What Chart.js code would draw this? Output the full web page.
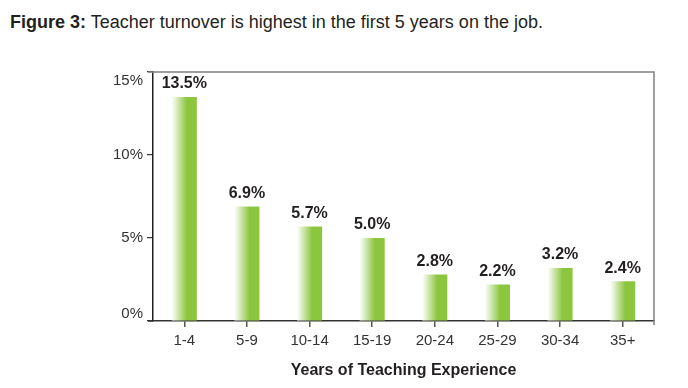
<!DOCTYPE html>
<html>
<head>
<meta charset="utf-8">
<script src="https://cdn.jsdelivr.net/npm/chart.js@4"></script>
<style>
  body { margin: 0; background: #fff; font-family: "Liberation Sans", Arial, sans-serif; }
  #wrap { position: relative; width: 688px; height: 388px; }
  #title { position: absolute; left: 10px; top: 12px; font-size: 18px; color: #231f20; white-space: nowrap; }
  #title b { font-weight: bold; }
  canvas { position: absolute; left: 0; top: 0; }
</style>
</head>
<body>
<div id="wrap">
  <div id="title"><b>Figure 3:</b> Teacher turnover is highest in the first 5 years on the job.</div>
  <canvas id="grafica" width="688" height="388"></canvas>
</div>
<script>
const categorias = ['1-4', '5-9', '10-14', '15-19', '20-24', '25-29', '30-34', '35+'];
const rotacion = [13.5, 6.9, 5.7, 5.0, 2.8, 2.2, 3.2, 2.4];
const etiquetas = ['13.5%', '6.9%', '5.7%', '5.0%', '2.8%', '2.2%', '3.2%', '2.4%'];
const ticksY = [0, 5, 10, 15];

const verde = '#8cc63f';
const fuente = '"Liberation Sans", Arial, sans-serif';

// degradado blanco -> verde en cada barra
function rellenoBarra(ctx) {
  const chart = ctx.chart;
  const area = chart.chartArea;
  if (!area || ctx.dataIndex === undefined) return verde;
  const x = chart.scales.x.getPixelForValue(ctx.dataIndex);
  const ancho = area.width / categorias.length * 0.4;
  const izq = x - ancho / 2;
  const g = chart.ctx.createLinearGradient(izq, 0, izq + ancho, 0);
  g.addColorStop(0, '#ffffff');
  g.addColorStop(0.6, verde);
  g.addColorStop(1, verde);
  return g;
}

const marco = {
  id: 'marco',
  beforeDatasetsDraw(chart) {
    const { ctx, chartArea: a } = chart;
    ctx.save();
    ctx.strokeStyle = '#808080';
    ctx.lineWidth = 1.5;
    ctx.beginPath();
    ctx.moveTo(a.left - 5, a.top);
    ctx.lineTo(a.right, a.top);
    ctx.lineTo(a.right, a.bottom + 4);
    ctx.stroke();
    ctx.strokeStyle = '#333';
    ctx.beginPath();
    ctx.moveTo(a.left - 5, a.bottom);
    ctx.lineTo(a.left, a.bottom);
    ctx.stroke();
    // etiquetas del eje y (0% sube, 15% baja como en el original)
    const y = chart.scales.y;
    ctx.font = '15px ' + fuente;
    ctx.fillStyle = '#333';
    ctx.textAlign = 'right';
    ctx.textBaseline = 'middle';
    ticksY.forEach(v => {
      let py = y.getPixelForValue(v);
      if (v === y.max) py += 9;
      if (v === y.min) py -= 7;
      ctx.fillText(v + '%', a.left - 10, py);
    });
    ctx.restore();
  }
};

const valores = {
  id: 'valores',
  afterDatasetsDraw(chart) {
    const ctx = chart.ctx;
    const meta = chart.getDatasetMeta(0);
    ctx.save();
    ctx.font = 'bold 16px ' + fuente;
    ctx.fillStyle = '#231f20';
    ctx.textAlign = 'center';
    ctx.textBaseline = 'bottom';
    meta.data.forEach((bar, i) => {
      ctx.fillText(etiquetas[i], bar.x, bar.y - 5);
    });
    ctx.restore();
  }
};

new Chart(document.getElementById('grafica'), {
  type: 'bar',
  data: {
    labels: categorias,
    datasets: [{
      data: rotacion,
      backgroundColor: rellenoBarra,
      borderWidth: 0,
      categoryPercentage: 1,
      barPercentage: 0.4
    }]
  },
  options: {
    responsive: false,
    animation: false,
    layout: { padding: { top: 72, right: 34, left: 0, bottom: 0 } },
    plugins: { legend: { display: false }, tooltip: { enabled: false }, title: { display: false } },
    scales: {
      x: {
        grid: { offset: false, drawOnChartArea: false, tickLength: 6, color: '#555', lineWidth: 1.5 },
        border: { color: '#333', width: 1.5 },
        ticks: { color: '#333', font: { family: fuente, size: 15 }, padding: 5 },
        title: {
          display: true,
          text: 'Years of Teaching Experience',
          color: '#231f20',
          font: { family: fuente, size: 16, weight: 'bold' },
          padding: { top: 10, bottom: 8 }
        },
        afterFit(s) { s.height = 67; }
      },
      y: {
        min: 0,
        max: 15,
        grid: { drawOnChartArea: false, tickLength: 6, color: '#333', lineWidth: 1.2 },
        border: { color: '#231f20', width: 1.5 },
        ticks: { stepSize: 5, display: false },
        afterFit(s) { s.width = 153; }
      }
    }
  },
  plugins: [marco, valores]
});
</script>
</body>
</html>
